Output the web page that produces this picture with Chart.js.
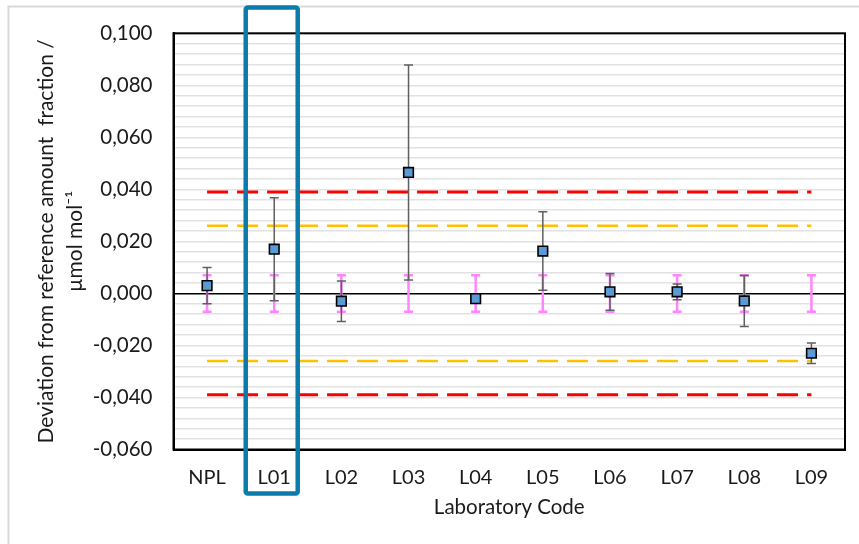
<!DOCTYPE html>
<html><head><meta charset="utf-8">
<script src="https://cdn.jsdelivr.net/npm/chart.js@4/dist/chart.umd.min.js"></script>
<style>html,body{margin:0;padding:0;background:#fff;}</style>
</head><body>
<canvas id="c" width="859" height="544"></canvas>
<script>
// ---- data ----
const labCodes = ['NPL','L01','L02','L03','L04','L05','L06','L07','L08','L09'];
const deviation = [0.003, 0.017, -0.003, 0.0465, -0.002, 0.0163, 0.0006, 0.0006, -0.0029, -0.023];
const uncertainty = [0.007, 0.0198, 0.0078, 0.0413, 0.0015, 0.0151, 0.0071, 0.003, 0.0098, 0.0039];
const refUncertainty = [0.007, 0.007, 0.007, 0.007, 0.007, 0.007, 0.007, 0.007, 0.007, 0.007];
const actionLimit = 0.039;
const warningLimit = 0.026;
const yMajorTicks = [-0.06, -0.04, -0.02, 0, 0.02, 0.04, 0.06, 0.08, 0.1];
const yMinorStep = 0.004;
const highlightedLab = 'L01';

const FONT = 'Lato';
const TXT = '#1a1a1a';

function fmt(v){ return v.toFixed(3).replace('.', ','); }
function isMajor(v){ return yMajorTicks.some(t => Math.abs(t - v) < 1e-9); }

const errorBars = {
  id: 'errorBars',
  beforeDatasetDraw(chart, args) {
    if (args.index !== 0) return;
    const ctx = chart.ctx, xs = chart.scales.x, ys = chart.scales.y;
    ctx.save();
    ctx.lineCap = 'butt';
    // reference uncertainty (pink)
    ctx.strokeStyle = '#FF85FF';
    ctx.lineWidth = 2.5;
    labCodes.forEach((l, i) => {
      const x = xs.getPixelForValue(i);
      const y1 = ys.getPixelForValue(0 + refUncertainty[i]);
      const y2 = ys.getPixelForValue(0 - refUncertainty[i]);
      ctx.beginPath();
      ctx.moveTo(x, y1); ctx.lineTo(x, y2);
      ctx.moveTo(x - 4.5, y1); ctx.lineTo(x + 4.5, y1);
      ctx.moveTo(x - 4.5, y2); ctx.lineTo(x + 4.5, y2);
      ctx.stroke();
    });
    // lab uncertainty (grey)
    ctx.strokeStyle = '#5f5f5f';
    ctx.lineWidth = 1.5;
    labCodes.forEach((l, i) => {
      const x = xs.getPixelForValue(i);
      const y1 = ys.getPixelForValue(deviation[i] + uncertainty[i]);
      const y2 = ys.getPixelForValue(deviation[i] - uncertainty[i]);
      ctx.beginPath();
      ctx.moveTo(x, y1); ctx.lineTo(x, y2);
      ctx.moveTo(x - 4.5, y1); ctx.lineTo(x + 4.5, y1);
      ctx.moveTo(x - 4.5, y2); ctx.lineTo(x + 4.5, y2);
      ctx.stroke();
    });
    ctx.restore();
  }
};

const frame = {
  id: 'frame',
  beforeDraw(chart) {
    const ctx = chart.ctx;
    ctx.save();
    ctx.fillStyle = '#fff';
    ctx.fillRect(0, 0, chart.width, chart.height);
    ctx.strokeStyle = '#d9d9d9';
    ctx.lineWidth = 2;
    ctx.beginPath();
    ctx.moveTo(8.5, chart.height); ctx.lineTo(8.5, 6.5); ctx.lineTo(chart.width, 6.5);
    ctx.stroke();
    ctx.restore();
  },
  afterDraw(chart) {
    const ctx = chart.ctx, a = chart.chartArea;
    ctx.save();
    ctx.strokeStyle = '#000';
    ctx.lineWidth = 2;
    ctx.strokeRect(a.left, a.top, a.right - a.left, a.bottom - a.top);
    // highlight box around the lab of interest
    const xc = chart.scales.x.getPixelForValue(labCodes.indexOf(highlightedLab));
    const x0 = xc - 28.5, x1 = xc + 23.5, y0 = 7.5, y1 = 493.5;
    ctx.strokeStyle = '#0b7bab';
    ctx.lineWidth = 4.5;
    ctx.lineJoin = 'round';
    ctx.beginPath();
    if (ctx.roundRect) ctx.roundRect(x0, y0, x1 - x0, y1 - y0, 2); else ctx.rect(x0, y0, x1 - x0, y1 - y0);
    ctx.stroke();
    ctx.restore();
  }
};

function limitLine(value, color, width) {
  return {
    type: 'line',
    data: labCodes.map(() => value),
    borderColor: color,
    borderWidth: width,
    borderDash: [21, 9],
    borderCapStyle: 'butt',
    pointRadius: 0,
    fill: false,
    tension: 0
  };
}

new Chart(document.getElementById('c'), {
  type: 'line',
  data: {
    labels: labCodes,
    datasets: [
      {
        data: deviation,
        showLine: false,
        pointStyle: 'rect',
        pointRadius: 6.8,
        pointBackgroundColor: '#5B9BD5',
        pointBorderColor: '#000',
        pointBorderWidth: 1.6
      },
      limitLine(actionLimit, '#FF0000', 3),
      limitLine(warningLimit, '#FFC000', 2.5),
      limitLine(-warningLimit, '#FFC000', 2.5),
      limitLine(-actionLimit, '#FF0000', 3)
    ]
  },
  options: {
    responsive: false,
    animation: false,
    devicePixelRatio: 1,
    layout: { padding: { left: 0, top: 30, right: 14, bottom: 0 } },
    plugins: { legend: { display: false }, tooltip: { enabled: false } },
    scales: {
      x: {
        type: 'category',
        offset: true,
        grid: { display: false, drawTicks: false },
        border: { color: '#000', width: 2 },
        ticks: { padding: 16, font: { family: FONT, size: 20 }, color: TXT, maxRotation: 0 },
        title: { display: true, text: 'Laboratory Code', font: { family: FONT, size: 20.5, lineHeight: 1.2 }, color: TXT, padding: { top: 0, bottom: 24 } },
        afterFit(s) { s.height = 94.5; }
      },
      y: {
        min: yMajorTicks[0],
        max: yMajorTicks[yMajorTicks.length - 1],
        afterBuildTicks(s) {
          const t = [];
          const n = Math.round((s.max - s.min) / yMinorStep);
          for (let i = 0; i <= n; i++) t.push({ value: Math.round((s.min + i * yMinorStep) * 1e6) / 1e6 });
          s.ticks = t;
        },
        ticks: {
          autoSkip: false,
          padding: 21,
          font: { family: FONT, size: 20.5 },
          color: TXT,
          callback: (v) => isMajor(v) ? fmt(v) : ''
        },
        grid: {
          drawTicks: false,
          color: (c) => (c.tick && Math.abs(c.tick.value) < 1e-9) ? '#000000' : '#e2e2e2',
          lineWidth: 1.5
        },
        border: { color: '#000', width: 2 },
        title: {
          display: true,
          text: ['Deviation from reference amount  fraction /', 'µmol mol⁻¹'],
          font: { family: FONT, size: 21, lineHeight: 1.38 },
          color: TXT,
          padding: { top: 31.5, bottom: 0 }
        },
        afterFit(s) { s.width = 173.5; }
      }
    }
  },
  plugins: [frame, errorBars]
});
</script>
</body></html>
